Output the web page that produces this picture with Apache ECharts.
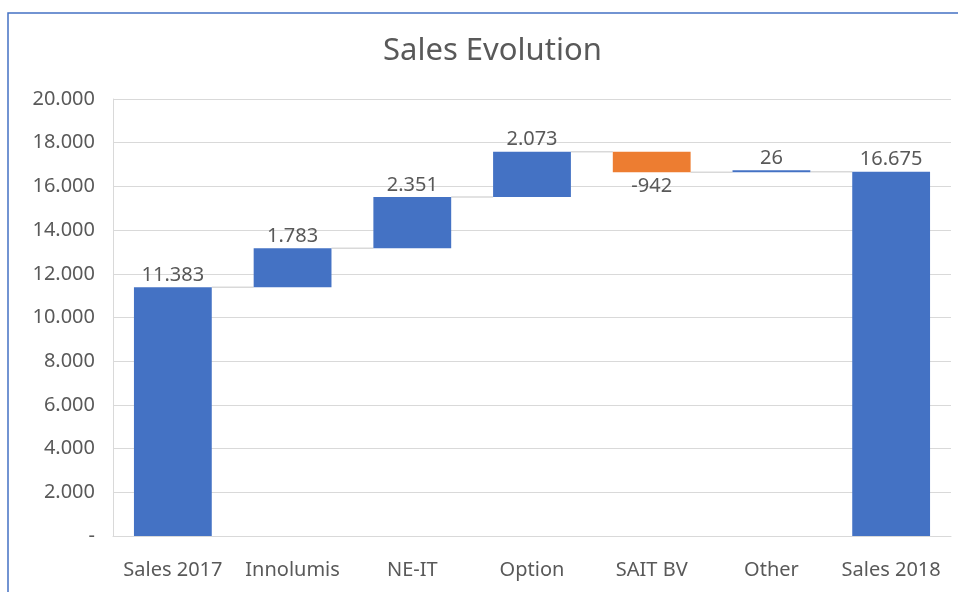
<!DOCTYPE html>
<html>
<head>
<meta charset="utf-8">
<script src="https://cdn.jsdelivr.net/npm/echarts@6/dist/echarts.min.js"></script>
<style>
  html, body { margin: 0; padding: 0; background: #fff; }
  #main { width: 958px; height: 592px; }
</style>
</head>
<body>
<div id="main"></div>
<script>
var categories = ['Sales 2017', 'Innolumis', 'NE-IT', 'Option', 'SAIT BV', 'Other', 'Sales 2018'];
var changes = [11383, 1783, 2351, 2073, -942, 26, 16675];
var isTotal = [true, false, false, false, false, false, true];
var yTicks = { min: 0, max: 20000, interval: 2000 };

var txt = '#595959';
var font = 'Noto Sans';

function fmt(v) {
	var s = String(Math.abs(v)).replace(/\B(?=(\d{3})+(?!\d))/g, '.');
	return (v < 0 ? '-' : '') + s;
}

// build the waterfall pieces
var base = [], up = [], down = [], levels = [];
var run = 0;
changes.forEach(function(v, i) {
	if (isTotal[i]) {
		base.push(0); up.push(v); down.push('-');
		run = v;
	} else if (v >= 0) {
		base.push(run); up.push(v); down.push('-');
		run += v;
	} else {
		base.push(run + v); up.push('-'); down.push(-v);
		run += v;
	}
	levels.push(run);
});

var connectors = levels.slice(0, -1).map(function(lv, i) { return [i, lv]; });

var option = {
	backgroundColor: '#fff',
	animation: false,
	title: {
		text: 'Sales Evolution',
		left: 378,
		top: 31,
		textStyle: { color: txt, fontSize: 31, fontWeight: 'normal', fontFamily: font }
	},
	graphic: [{
		type: 'rect',
		shape: { x: 8, y: 13, width: 1000, height: 700 },
		style: { fill: 'none', stroke: '#4472c4', lineWidth: 1.5 },
		silent: true
	}],
	grid: { left: 113, right: 7, top: 99, bottom: 56 },
	xAxis: {
		type: 'category',
		data: categories,
		axisLine: { lineStyle: { color: '#d9d9d9' } },
		axisTick: { show: false },
		axisLabel: { color: txt, fontSize: 20, fontFamily: font, margin: 24, interval: 0 }
	},
	yAxis: {
		type: 'value',
		min: yTicks.min,
		max: yTicks.max,
		interval: yTicks.interval,
		axisLine: { show: true, lineStyle: { color: '#d9d9d9' } },
		axisTick: { show: false },
		splitLine: { lineStyle: { color: '#d9d9d9' } },
		axisLabel: {
			color: txt, fontSize: 20, fontFamily: font, margin: 18,
			formatter: function(v) { return v === 0 ? '-' : fmt(v); }
		}
	},
	series: [
		{
			name: 'base', type: 'bar', stack: 'w', barWidth: '65%',
			itemStyle: { color: 'transparent' },
			data: base, silent: true
		},
		{
			name: 'up', type: 'bar', stack: 'w', barWidth: '65%', barMinHeight: 2,
			itemStyle: { color: '#4472c4' },
			label: {
				show: true, position: 'top', distance: 2,
				color: txt, fontSize: 20, fontFamily: font,
				formatter: function(p) { return fmt(changes[p.dataIndex]); }
			},
			data: up
		},
		{
			name: 'down', type: 'bar', stack: 'w', barWidth: '65%',
			itemStyle: { color: '#ed7d31' },
			label: {
				show: true, position: 'bottom', distance: 4,
				color: txt, fontSize: 20, fontFamily: font,
				formatter: function(p) { return fmt(changes[p.dataIndex]); }
			},
			data: down
		},
		{
			name: 'connector', type: 'custom', silent: true, z: 1,
			renderItem: function(params, api) {
				var i = api.value(0), lv = api.value(1);
				var band = api.size([1, 0])[0];
				var half = band * 0.65 / 2;
				var a = api.coord([i, lv]);
				var b = api.coord([i + 1, lv]);
				return {
					type: 'line',
					shape: { x1: a[0] + half, y1: a[1], x2: b[0] - half, y2: b[1] },
					style: { stroke: '#d9d9d9', lineWidth: 1.5 }
				};
			},
			data: connectors
		}
	]
};

var chart = echarts.init(document.getElementById('main'));
chart.setOption(option);
</script>
</body>
</html>
